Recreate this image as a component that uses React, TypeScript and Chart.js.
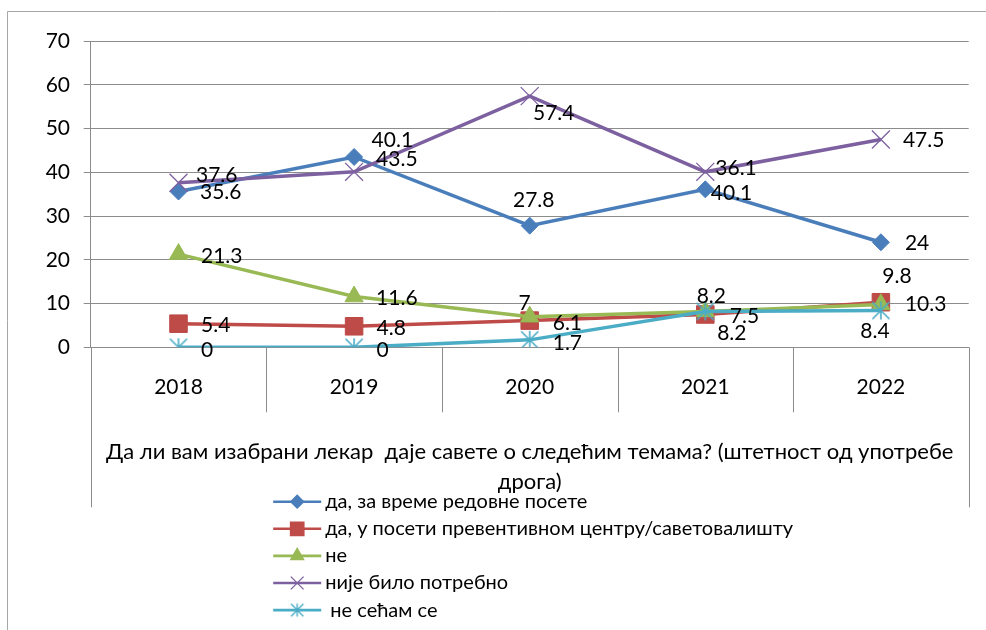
import React, { useEffect, useRef } from 'react';
import { Chart, registerables } from 'chart.js';
import { drawPoint } from 'chart.js/helpers';

Chart.register(...registerables);

// ---- data ----
const categories = ['2018', '2019', '2020', '2021', '2022'];
const seriesNames = [
  'да, за време редовне посете',
  'да, у посети превентивном центру/саветовалишту',
  'не',
  'није било потребно',
  ' не сећам се',
];
const regularVisit = [35.6, 43.5, 27.8, 36.1, 24];
const preventiveVisit = [5.4, 4.8, 6.1, 7.5, 10.3];
const answerNo = [21.3, 11.6, 7, 8.2, 9.8];
const notNeeded = [37.6, 40.1, 57.4, 40.1, 47.5];
const dontRemember = [0, 0, 1.7, 8.2, 8.4];
const yMin = 0;
const yMax = 70;
const yStep = 10;
const axisTitleLines = [
  'Да ли вам изабрани лекар  даје савете о следећим темама? (штетност од употребе',
  'дрога)',
];

// ---- styles ----
const FONT_FAMILY = 'Lato, "Open Sans", sans-serif';
const FONT_SIZE = 21;
const TITLE_SIZE = 22;
const LEGEND_SIZE = 20;
const GRID = '#8c8c8c';
const FRAME = '#a6a6a6';
const colors = ['#4a7ebb', '#be4b48', '#98b954', '#7d60a0', '#4bacc6'];

// label placement: [align, dx, dy] relative to point
const labelLayout: [string, number, number][][] = [
  [['l', 21.5, 1], ['l', 22, 2], ['c', 4, -25], ['l', 10, -21], ['l', 24, 1]],
  [['l', 22.5, 2], ['l', 22.5, 2], ['l', 23, 3], ['l', 24.5, 2], ['l', 24, 2]],
  [['l', 22.5, 2], ['l', 22, 2], ['c', -5, -13], ['c', 6, -15], ['c', 16, -28]],
  [['l', 17.5, -8], ['l', 17.5, -32], ['c', 24, 17], ['l', 5.5, 21], ['l', 22, 1]],
  [['l', 22.5, 3], ['l', 22.5, 3], ['l', 23, 3], ['c', 26.5, 22], ['c', -6, 21]],
];

function makeAsterisk(color: string, half: number, lw: number) {
  const size = Math.ceil(half * 2 + lw * 2 + 2);
  const c = document.createElement('canvas');
  c.width = size;
  c.height = size;
  const ctx = c.getContext('2d')!;
  const m = size / 2;
  ctx.strokeStyle = color;
  ctx.lineWidth = lw;
  ctx.beginPath();
  const d = half * 0.95;
  ctx.moveTo(m - d, m - d);
  ctx.lineTo(m + d, m + d);
  ctx.moveTo(m + d, m - d);
  ctx.lineTo(m - d, m + d);
  ctx.moveTo(m, m - half);
  ctx.lineTo(m, m + half);
  ctx.stroke();
  return c;
}

export default function App() {
  const ref = useRef<HTMLCanvasElement>(null);

  useEffect(() => {
    const canvas = ref.current!;
    const values = [regularVisit, preventiveVisit, answerNo, notNeeded, dontRemember];
    const asterBig = makeAsterisk(colors[4], 9, 1.6);
    const asterSmall = makeAsterisk(colors[4], 6.5, 1.4);
    const pointStyles: any[] = ['rectRot', 'rect', 'triangle', 'crossRot', asterBig];
    const pointRadii = [8.5, 12.4, 10.5, 12.7, 9];
    const legendStyles: any[] = ['rectRot', 'rect', 'triangle', 'crossRot', asterSmall];
    const legendRadii = [6.5, 9.5, 7.5, 9, 6.5];
    const font = `${FONT_SIZE}px ${FONT_FAMILY}`;
    const titleFont = `${TITLE_SIZE}px ${FONT_FAMILY}`;
    const legendFont = `${LEGEND_SIZE}px ${FONT_FAMILY}`;

    const framePlugin = {
      id: 'frame',
      afterDraw(chart: any) {
        const { ctx, chartArea: ca, scales } = chart;
        ctx.save();
        // outer frame
        ctx.strokeStyle = FRAME;
        ctx.lineWidth = 1;
        ctx.beginPath();
        ctx.moveTo(7.5, 630);
        ctx.lineTo(7.5, 11.5);
        ctx.lineTo(986, 11.5);
        ctx.stroke();
        // category dividers and table box
        const xs = scales.x;
        const n = categories.length;
        const w = (ca.right - ca.left) / n;
        ctx.strokeStyle = GRID;
        ctx.beginPath();
        for (let i = 0; i <= n; i++) {
          const x = Math.round(xs.getPixelForValue(0) - w / 2 + i * w) + 0.5;
          const len = i === 0 || i === n ? 160 : 65;
          ctx.moveTo(x, ca.bottom);
          ctx.lineTo(x, ca.bottom + len);
        }
        ctx.stroke();
        // axis title
        ctx.fillStyle = '#000';
        ctx.font = titleFont;
        ctx.textAlign = 'center';
        ctx.textBaseline = 'middle';
        const cx = (ca.left + ca.right) / 2;
        ctx.fillText(axisTitleLines[0], cx, ca.bottom + 104.4, 850);
        ctx.fillText(axisTitleLines[1], cx, ca.bottom + 134.4);
        // legend
        for (let i = 0; i < seriesNames.length; i++) {
          const y = ca.bottom + 154.4 + i * 27.1;
          const x0 = ca.left + 182.5;
          ctx.strokeStyle = colors[i];
          ctx.lineWidth = 2.6;
          ctx.beginPath();
          ctx.moveTo(x0, y);
          ctx.lineTo(x0 + 48, y);
          ctx.stroke();
          ctx.fillStyle = colors[i];
          ctx.strokeStyle = colors[i];
          ctx.lineWidth = 1.3;
          drawPoint(ctx, { pointStyle: legendStyles[i], radius: legendRadii[i], rotation: 0, borderWidth: 1.3 } as any, x0 + 24, y);
          ctx.fillStyle = '#000';
          ctx.font = legendFont;
          ctx.textAlign = 'left';
          ctx.textBaseline = 'middle';
          ctx.fillText(seriesNames[i], x0 + 52, y);
        }
        ctx.restore();
      },
    };

    const labelPlugin = {
      id: 'pointLabels',
      afterDatasetsDraw(chart: any) {
        const { ctx } = chart;
        ctx.save();
        ctx.fillStyle = '#000';
        ctx.font = font;
        ctx.textBaseline = 'middle';
        values.forEach((arr, di) => {
          const meta = chart.getDatasetMeta(di);
          arr.forEach((v, pi) => {
            const el = meta.data[pi];
            const [al, dx, dy] = labelLayout[di][pi];
            ctx.textAlign = al === 'l' ? 'left' : 'center';
            ctx.fillText(String(v), el.x + dx, el.y + dy);
          });
        });
        ctx.restore();
      },
    };

    const chart = new Chart(canvas, {
      type: 'line',
      data: {
        labels: categories,
        datasets: values.map((arr, i) => ({
          label: seriesNames[i],
          data: arr,
          borderColor: colors[i],
          backgroundColor: colors[i],
          borderWidth: 3.5,
          pointStyle: pointStyles[i],
          pointRadius: pointRadii[i],
          pointBorderWidth: i === 3 ? 1.3 : 1,
          pointBackgroundColor: colors[i],
          pointBorderColor: colors[i],
          tension: 0,
          order: values.length - i,
        })),
      },
      options: {
        animation: false,
        responsive: false,
        events: [],
        layout: { padding: { top: 41, right: 17.3, left: 0, bottom: 0 } },
        plugins: {
          legend: { display: false },
          tooltip: { enabled: false },
          title: { display: false },
        },
        scales: {
          x: {
            type: 'category',
            offset: true,
            grid: { display: false, drawTicks: false },
            border: { display: true, color: GRID, width: 1 },
            ticks: {
              font: { family: FONT_FAMILY, size: FONT_SIZE },
              color: '#000',
              padding: 27,
              maxRotation: 0,
              autoSkip: false,
            },
            afterFit: (s: any) => {
              s.height = 282.7;
            },
          },
          y: {
            min: yMin,
            max: yMax,
            ticks: {
              stepSize: yStep,
              font: { family: FONT_FAMILY, size: FONT_SIZE },
              color: '#000',
              padding: 13.7,
            },
            grid: { color: GRID, lineWidth: 1, tickLength: 7, drawTicks: true },
            border: { color: GRID, width: 1 },
            afterFit: (s: any) => {
              s.width = 90.7;
            },
          },
        },
      },
      plugins: [framePlugin, labelPlugin],
    });
    return () => chart.destroy();
  }, []);

  return (
    <div style={{ position: 'absolute', left: 0, top: 0, width: 986, height: 630, background: '#fff' }}>
      <canvas ref={ref} width={986} height={630} style={{ width: 986, height: 630, display: 'block' }} />
    </div>
  );
}
